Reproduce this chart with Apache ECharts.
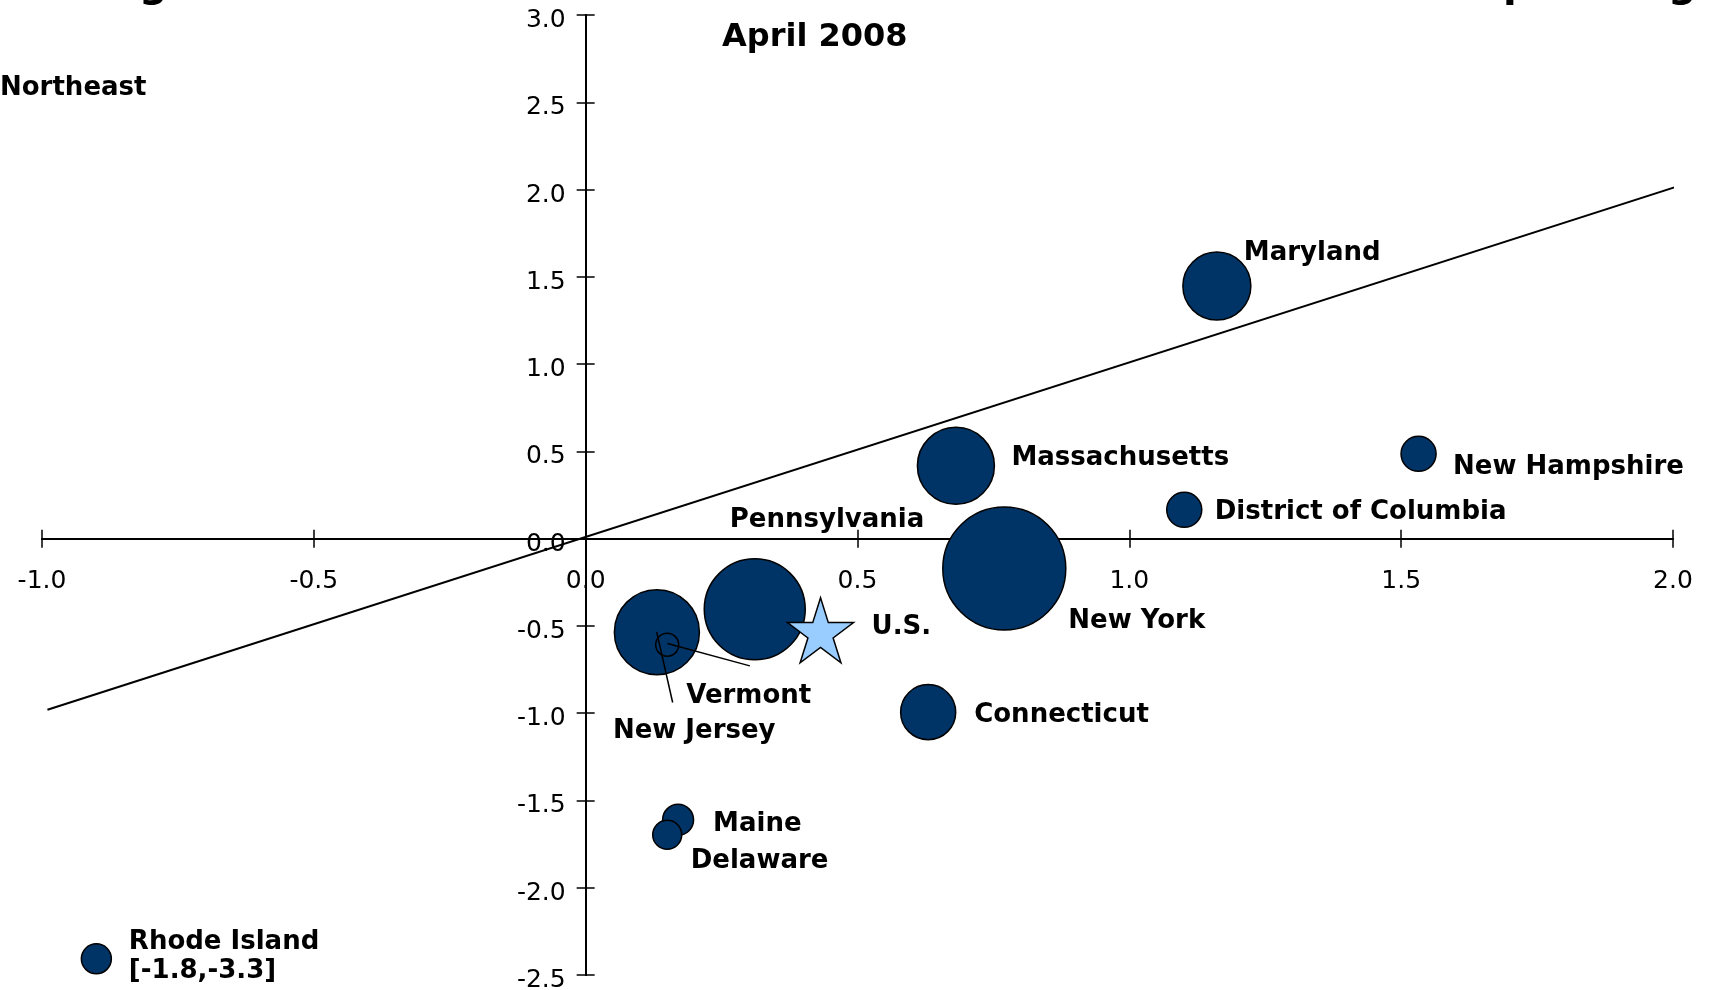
<!DOCTYPE html>
<html>
<head>
<meta charset="utf-8">
<script src="https://cdn.jsdelivr.net/npm/echarts@6/dist/echarts.min.js"></script>
<style>
html,body{margin:0;padding:0;background:#ffffff;}
#chart{width:1714px;height:990px;}
</style>
</head>
<body>
<div id="chart"></div>
<script>
// ---------------- data ----------------
const states = ['Maryland','Massachusetts','New Hampshire','District of Columbia','New York','Pennsylvania','New Jersey','Vermont','Connecticut','Maine','Delaware','Rhode Island'];
const stateLabels = ['Maryland','Massachusetts','New Hampshire','District of Columbia','New York','Pennsylvania','New Jersey','Vermont','Connecticut','Maine','Delaware','Rhode Island\n[-1.8,-3.3]'];
const xValues = [1.161, 0.681, 1.532, 1.101, 0.770, 0.311, 0.131, 0.150, 0.630, 0.170, 0.150, -0.900];
const yValues = [1.447, 0.417, 0.486, 0.165, -0.171, -0.405, -0.536, -0.608, -0.994, -1.611, -1.697, -2.407];
const bubbleValues = [46.2, 59.3, 12.3, 12.3, 151.3, 102, 72.3, 5.3, 30.3, 9.6, 8.4, 9.0];
const usLabel = 'U.S.';
const usPoint = [0.432, -0.525];
const trendLine = [[-0.99, -0.98], [2.01, 2.02]];
const vermontLeader = [[0.1505, -0.601], [0.302, -0.729]];
const newJerseyLeader = [[0.1306, -0.534], [0.160, -0.939]];
const xTickLabels = ['-1.0','-0.5','0.0','0.5','1.0','1.5','2.0'];
const yTickLabels = ['-2.5','-2.0','-1.5','-1.0','-0.5','0.0','0.5','1.0','1.5','2.0','2.5','3.0'];
const chartTitle = 'April 2008';
const regionLabel = 'Northeast';
const cutTitleGlyphs = ['g', 'p', 'g'];   // descenders of the (cropped) main title
const xRange = [-1, 2];
const yRange = [-2.5, 3];

// ---------------- styles ----------------
const labelOffsets = {
  'Maryland': [27, -32.4],
  'Massachusetts': [55.5, -7.3],
  'New Hampshire': [34.5, 13],
  'District of Columbia': [30.5, 2.5],
  'New York': [64, 53.2],
  'Pennsylvania': [-25, -89.2],
  'New Jersey': [-44, 99.3],
  'Vermont': [19, 51.8],
  'Connecticut': [46, 2.7],
  'Maine': [35, 4.3],
  'Delaware': [23.5, 26.8],
  'Rhode Island': [32.5, -2.3]
};
const usOffset = [51, -2.8];
const cutGlyphX = [139, 1503, 1668];
const bubbleColor = '#003366';
const labelFont = {fontFamily: 'DejaVu Sans', fontWeight: 'bold', fontSize: 26, color: '#000'};
const tickFont = {fontFamily: 'DejaVu Sans', fontWeight: 'normal', fontSize: 25, color: '#000'};
const gridBox = {left: 42, right: 41, top: 15, bottom: 15};

function starPath() {
  const pts = [];
  for (let k = 0; k < 10; k++) {
    const r = k % 2 === 0 ? 50 : 19.1;
    const a = (-90 + 36 * k) * Math.PI / 180;
    pts.push((50 + r * Math.cos(a)).toFixed(2) + ',' + (50 + r * Math.sin(a)).toFixed(2));
  }
  return 'path://M' + pts.join('L') + 'Z';
}

const bubbleData = states.map((s, i) => ({
  name: s,
  value: [xValues[i], yValues[i], bubbleValues[i]],
  label: {
    show: true,
    formatter: stateLabels[i],
    position: 'inside',
    align: 'left',
    verticalAlign: 'middle',
    offset: labelOffsets[s],
    lineHeight: 29,
    ...labelFont
  }
}));

const el = document.getElementById('chart');
const chart = echarts.init(el, null, {renderer: 'canvas'});
const W = chart.getWidth(), H = chart.getHeight();
const plotW = W - gridBox.left - gridBox.right;
const plotH = H - gridBox.top - gridBox.bottom;
// pixel position of the zero crossing, so the axes cross at the origin
const zeroX = gridBox.left + (0 - xRange[0]) / (xRange[1] - xRange[0]) * plotW;
const zeroY = gridBox.top + (yRange[1] - 0) / (yRange[1] - yRange[0]) * plotH;

const lineStyleAxis = {color: '#000', width: 2};
const tickStyle = {color: '#000', width: 1.5};

function xAxisDef(pos, showLabel) {
  const offset = pos === 'bottom' ? zeroY - (H - gridBox.bottom) : gridBox.top - zeroY;
  return {
    type: 'value', min: xRange[0], max: xRange[1], interval: 0.5, position: pos, offset: offset,
    axisLine: {show: true, onZero: false, lineStyle: lineStyleAxis},
    axisTick: {show: true, inside: false, length: 9, lineStyle: tickStyle},
    axisLabel: {show: showLabel, margin: 30, formatter: (v, i) => xTickLabels[i], ...tickFont},
    splitLine: {show: false}
  };
}
function yAxisDef(pos, showLabel) {
  const offset = pos === 'left' ? gridBox.left - zeroX : zeroX - (W - gridBox.right);
  return {
    type: 'value', min: yRange[0], max: yRange[1], interval: 0.5, position: pos, offset: offset,
    axisLine: {show: true, onZero: false, lineStyle: lineStyleAxis},
    axisTick: {show: true, inside: false, length: 9, lineStyle: tickStyle},
    axisLabel: {show: showLabel, margin: 20, verticalAlign: 'top', lineHeight: 11, formatter: (v, i) => yTickLabels[i], ...tickFont},
    splitLine: {show: false}
  };
}

const graphics = [
  {type: 'text', x: 722, y: 38, style: {text: chartTitle, font: 'bold 32px "DejaVu Sans"', fill: '#000', textVerticalAlign: 'middle'}},
  {type: 'text', x: 0, y: 88.2, style: {text: regionLabel, font: 'bold 26px "DejaVu Sans"', fill: '#000', textVerticalAlign: 'middle'}}
];
cutTitleGlyphs.forEach((g, i) => {
  graphics.push({type: 'text', x: cutGlyphX[i], y: -14, style: {text: g, font: 'bold 40px "DejaVu Sans"', fill: '#000', textVerticalAlign: 'middle'}});
});

chart.setOption({
  animation: false,
  backgroundColor: '#ffffff',
  grid: {left: gridBox.left, right: gridBox.right, top: gridBox.top, bottom: gridBox.bottom, containLabel: false, outerBoundsMode: 'none'},
  xAxis: [xAxisDef('bottom', true), xAxisDef('top', false)],
  yAxis: [yAxisDef('left', true), yAxisDef('right', false)],
  graphic: graphics,
  series: [
    {
      type: 'line', data: trendLine, symbol: 'none', z: 1, clip: false,
      lineStyle: {color: '#000', width: 2}, silent: true
    },
    {
      type: 'scatter', data: bubbleData, z: 3,
      symbolSize: d => 10 * Math.sqrt(d[2]),
      itemStyle: {color: bubbleColor, borderColor: '#000', borderWidth: 1.5, opacity: 1}
    },
    {
      type: 'line', data: vermontLeader, symbol: 'none', z: 4,
      lineStyle: {color: '#000', width: 1.5}
    },
    {
      type: 'line', data: newJerseyLeader, symbol: 'none', z: 4,
      lineStyle: {color: '#000', width: 1.5}
    },
    {
      type: 'scatter', z: 5,
      data: [{name: usLabel, value: usPoint, label: {show: true, formatter: usLabel, position: 'inside', align: 'left', verticalAlign: 'middle', offset: usOffset, ...labelFont}}],
      symbol: starPath(), symbolSize: [66, 65],
      itemStyle: {color: '#99CCFF', borderColor: '#000', borderWidth: 1.5, opacity: 1}
    }
  ]
});
</script>
</body>
</html>
